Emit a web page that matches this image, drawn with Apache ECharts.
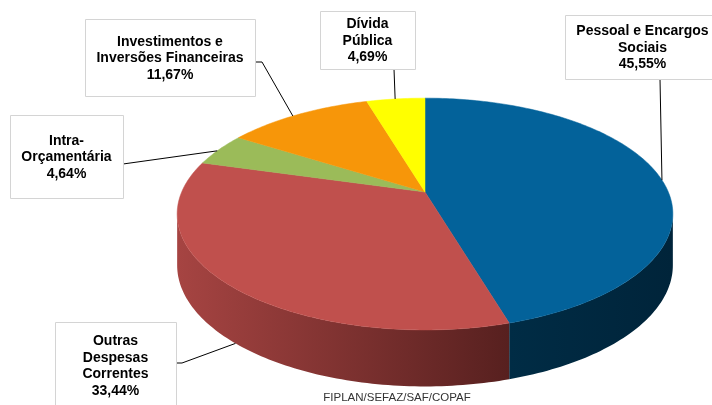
<!DOCTYPE html>
<html>
<head>
<meta charset="utf-8">
<script src="https://cdn.jsdelivr.net/npm/echarts@6/dist/echarts.min.js"></script>
<style>
  html, body { margin: 0; background: #fff; }
  #chart { width: 712px; height: 405px; }
</style>
</head>
<body>
<div id="chart"></div>
<script>
// data
const categories = ["Pessoal e Encargos Sociais", "Outras Despesas Correntes", "Intra-Orçamentária", "Investimentos e Inversões Financeiras", "Dívida Pública"];
const labelText = [
  ["Pessoal e Encargos", "Sociais"],
  ["Outras", "Despesas", "Correntes"],
  ["Intra-", "Orçamentária"],
  ["Investimentos e", "Inversões Financeiras"],
  ["Dívida", "Pública"]
];
const values = [45.55, 33.44, 4.64, 11.67, 4.69];
const sourceText = "FIPLAN/SEFAZ/SAF/COPAF";

// styles / layout
const topColors = ["#03629a", "#c0504d", "#9bbb59", "#f79609", "#ffff00"];
const sideColors = [["#002c45", "#00243a"], ["#a64442", "#57201f"], ["#7d9846", "#6a803b"], ["#c97a07", "#b06a05"], ["#cccc00", "#b5b500"]];
const FONT = "Liberation Sans, Arial, sans-serif";
// simple perspective: back of the disc is drawn smaller than the front
const cx = 425, cy = 189, rx = 242, ry = 110.5, depth = 50, persp = 0.216, apexY = 192;
const silhouette = 90 + Math.asin(persp) * 180 / Math.PI;
// label boxes: [x, y, w, h], anchor fraction inside slice, anchor on bottom edge?, leader start points
const boxes = [
  { r: [565, 15, 155, 64], frac: 0.52, low: false, from: [[660, 79]] },
  { r: [55, 322, 121, 86], frac: 0.473, low: true, from: [[176, 363], [182, 363]] },
  { r: [10, 115, 113, 83], frac: 0.45, low: false, from: [[123, 164]] },
  { r: [85, 19, 170, 77], frac: 0.46, low: false, from: [[255, 62], [262, 62]] },
  { r: [320, 11, 95, 58], frac: 0.49, low: false, from: [[394, 69]] }
];

const total = values.reduce((a, b) => a + b, 0);
const starts = [];
values.reduce((acc, v, i) => { starts[i] = acc; return acc + v; }, 0);

function pt(deg, low) {
  const a = deg * Math.PI / 180;
  const s = 1 / (1 + persp * Math.cos(a));
  return [cx + rx * Math.sin(a) * s, cy - ry * Math.cos(a) * s + (low ? depth * Math.sqrt(s) : 0)];
}
function arc(a0, a1, low) {
  const pts = [];
  const n = Math.max(2, Math.ceil(Math.abs(a1 - a0)));
  for (let k = 0; k <= n; k++) pts.push(pt(a0 + (a1 - a0) * k / n, low));
  return pts;
}
function angles(i, v) {
  const a0 = starts[i] / total * 360;
  return [a0, a0 + v / total * 360];
}

function renderSide(params, api) {
  const i = params.dataIndex;
  const [a0, a1] = angles(i, api.value(0));
  const s = Math.max(a0, silhouette), e = Math.min(a1, 360 - silhouette);
  if (s >= e) return { type: 'group', children: [] };
  const p0 = pt(s), p1 = pt(e);
  const pts = arc(s, e, false).concat(arc(e, s, true));
  return {
    type: 'polygon',
    shape: { points: pts },
    style: {
      fill: new echarts.graphic.LinearGradient(Math.min(p0[0], p1[0]), 0, Math.max(p0[0], p1[0]), 0, [
        { offset: 0, color: sideColors[i][0] },
        { offset: 1, color: sideColors[i][1] }
      ], true),
      stroke: null
    }
  };
}

function renderTop(params, api) {
  const i = params.dataIndex;
  const v = api.value(0);
  const [a0, a1] = angles(i, v);
  const pts = [[cx, apexY]].concat(arc(a0, a1, false));
  const b = boxes[i];
  const anchor = pt(a0 + (a1 - a0) * b.frac, b.low);
  const lines = labelText[i].concat([v.toFixed(2).replace('.', ',') + '%']);
  const lh = 16.5;
  const tx = b.r[0] + b.r[2] / 2;
  const ty = b.r[1] + b.r[3] / 2 + 1 - (lines.length - 1) * lh / 2;
  const children = [
    { type: 'polygon', shape: { points: pts }, style: { fill: topColors[i], stroke: topColors[i], lineWidth: 0.5 } },
    { type: 'polyline', shape: { points: b.from.concat([anchor]) }, style: { stroke: '#000', lineWidth: 1, fill: null }, z2: 20 },
    { type: 'rect', shape: { x: b.r[0] + 0.5, y: b.r[1] + 0.5, width: b.r[2], height: b.r[3] }, style: { fill: '#fff', stroke: '#d4d4d4', lineWidth: 1 }, z2: 30 }
  ];
  lines.forEach((t, k) => {
    children.push({
      type: 'text', z2: 31,
      style: { text: t, x: tx, y: ty + k * lh, align: 'center', verticalAlign: 'middle', fill: '#000', font: 'bold 14px ' + FONT }
    });
  });
  return { type: 'group', children };
}

const chart = echarts.init(document.getElementById('chart'));
chart.setOption({
  animation: false,
  backgroundColor: '#fff',
  series: [
    { type: 'custom', name: 'lado', coordinateSystem: 'none', z: 1, renderItem: renderSide, data: values },
    { type: 'custom', name: 'topo', coordinateSystem: 'none', z: 2, renderItem: renderTop, data: values }
  ],
  graphic: [{
    type: 'text', x: 397, y: 398,
    style: { text: sourceText, fill: '#333', font: '11.5px ' + FONT, align: 'center', verticalAlign: 'middle' }
  }]
});
</script>
</body>
</html>
